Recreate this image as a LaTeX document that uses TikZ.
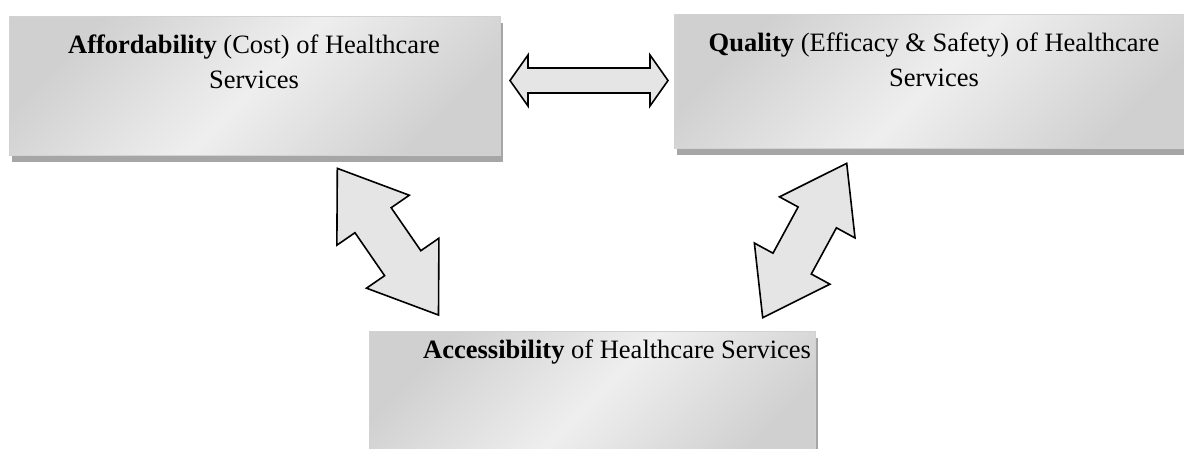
\documentclass[tikz,border=0pt]{standalone}
\usepackage{fontspec}
\setmainfont{Liberation Serif}
\tikzset{
  box/.style={rectangle, inner sep=0pt, draw=gray!35, line width=0.6pt,
    top color=gray!37, bottom color=gray!37, middle color=gray!13, shading angle=45},
  boxshadow/.style={fill=gray!70},
  blockarrow/.style={fill=gray!20, draw=black, line width=1.6pt, line join=miter},
  lbl/.style={inner sep=0pt, font=\fontsize{26.5}{35}\selectfont, align=center},
}
% double block arrow: centre coordinate, angle, length, head length, head half-width, shaft half-width
\newcommand\dblblockarrow[6]{%
  \draw[blockarrow, shift={(#1)}, rotate=#2]
    ({-#3/2},0) -- ({-#3/2+#4},#5) -- ({-#3/2+#4},#6) -- ({#3/2-#4},#6) --
    ({#3/2-#4},#5) -- ({#3/2},0) -- ({#3/2-#4},-#5) -- ({#3/2-#4},-#6) --
    ({-#3/2+#4},-#6) -- ({-#3/2+#4},-#5) -- cycle;}
\begin{document}
\begin{tikzpicture}[x=1pt, y=-1pt]
\path[use as bounding box] (0,0) rectangle (1184,448);
\fill[white] (0,0) rectangle (1184,448);
\clip (0,0) rectangle (1184,448);

% shadows
\fill[boxshadow] (12,22.5) rectangle (503,161.5);
\fill[boxshadow] (677,20.5) rectangle (1197,154.5);
\fill[boxshadow] (372,337.5) rectangle (818,477.5);

% boxes
\node[box, minimum width=491pt, minimum height=139pt] (aff) at (254.5,85.5) {};
\node[box, minimum width=520pt, minimum height=134pt] (qual) at (934,81) {};
\node[box, minimum width=446pt, minimum height=140pt] (acc) at (592,401) {};

% texts (base anchor = baseline of the last line)
\node[lbl, anchor=base] (afftxt) at (254,88) {\textbf{Affordability} (Cost) of Healthcare\\Services};
\node[lbl, anchor=base] (qualtxt) at (934,86.5) {\textbf{Quality} (Efficacy \& Safety) of Healthcare\\Services};
\node[lbl, anchor=base west] (acctxt) at (423,358) {\textbf{Accessibility} of Healthcare Services};

% block arrows between the boxes
\coordinate (aq) at (589,80.5);
\coordinate (aa) at (387.9,241.7);
\coordinate (qa) at (804.7,240.5);
\dblblockarrow{aq}{0}{158}{18}{25.5}{12.5}
\dblblockarrow{aa}{-55.4}{178.2}{63}{44}{22}
\dblblockarrow{qa}{61.45}{175.8}{61.6}{43}{21.8}
\end{tikzpicture}
\end{document}
